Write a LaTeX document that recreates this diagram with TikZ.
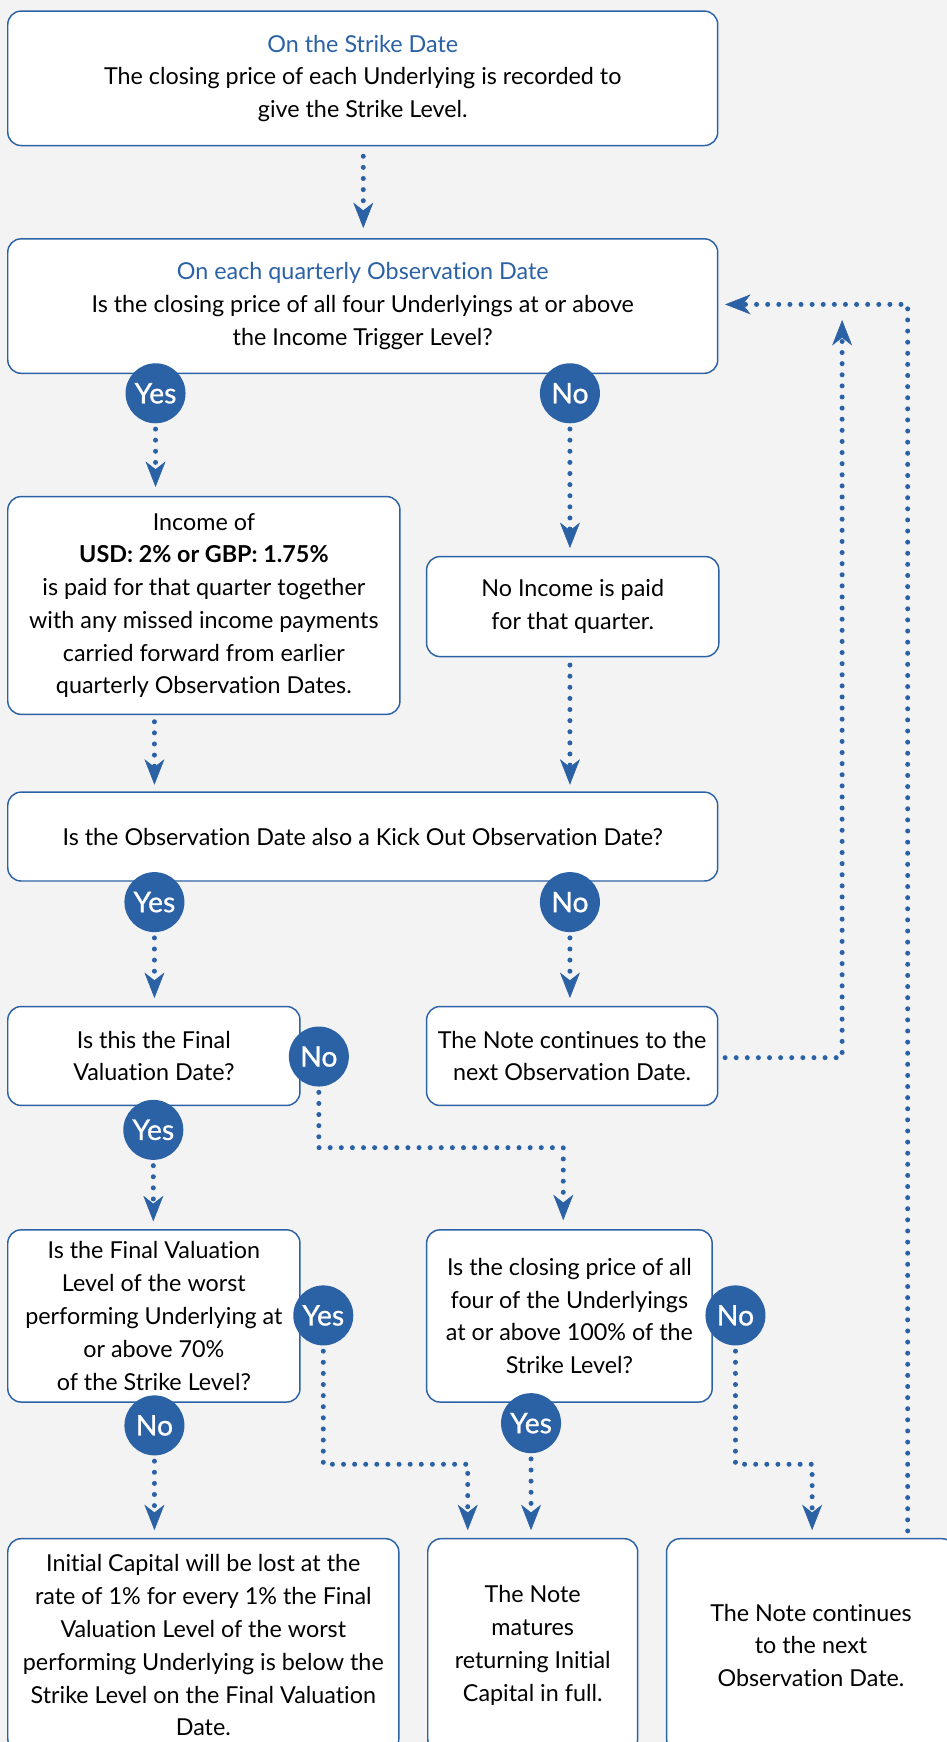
\documentclass[tikz,border=0pt]{standalone}
\usepackage{fontspec}
\setmainfont[Ligatures=NoCommon]{Lato}
\newfontfamily\circfont[FakeBold=0.8,Ligatures=NoCommon]{Lato}
\usetikzlibrary{arrows.meta}
\definecolor{bl}{HTML}{2B61A5}
\definecolor{bg}{HTML}{F3F3F3}
\begin{document}
\begin{tikzpicture}[x=1pt,y=-1pt,
  box/.style={draw=bl, line width=1.3pt, fill=white, rounded corners=12pt, align=center, inner sep=0pt, font=\fontsize{21}{29.5}\selectfont},
  yn/.style={circle, fill=bl, minimum size=54pt, inner sep=0pt, text=white, font=\circfont\fontsize{25.5}{25.5}\selectfont},
  dotarrow/.style={draw=bl, line width=4.5pt, line cap=round, dash pattern=on 0pt off 10pt,
     -{Stealth[length=23pt,width=18pt,inset=7pt,line width=0.5pt]}},
]
\fill[bg] (0,0) rectangle (852,1568);
\useasboundingbox (0,0) rectangle (852,1568);

% boxes
\node[box, minimum width=639pt, minimum height=121pt] (b1) at (326.5,70.5)
  {\textcolor{bl}{On the Strike Date}\\The closing price of each Underlying is recorded to\\give the Strike Level.};
\node[box, minimum width=639pt, minimum height=121pt] (b2) at (326.5,275.5)
  {\textcolor{bl}{On each quarterly Observation Date}\\Is the closing price of all four Underlyings at or above\\the Income Trigger Level?};
\node[box, minimum width=353pt, minimum height=196pt] (b3) at (183.5,545)
  {Income of\\\textbf{USD: 2\% or GBP: 1.75\%}\\is paid for that quarter together\\with any missed income payments\\carried forward from earlier\\quarterly Observation Dates.};
\node[box, minimum width=263pt, minimum height=90pt] (b4) at (515.5,546)
  {No Income is paid\\for that quarter.};
\node[box, minimum width=639pt, minimum height=80pt] (b5) at (326.5,753)
  {Is the Observation Date also a Kick Out Observation Date?};
\node[box, minimum width=263pt, minimum height=89pt] (b6) at (138.5,950.5)
  {Is this the Final\\Valuation Date?};
\node[box, minimum width=262pt, minimum height=89pt] (b7) at (515,950.5)
  {The Note continues to the\\next Observation Date.};
\node[box, minimum width=263pt, minimum height=155pt] (b8) at (138.5,1184.5)
  {Is the Final Valuation\\Level of the worst\\performing Underlying at\\or above 70\%\\of the Strike Level?};
\node[box, minimum width=257pt, minimum height=155pt] (b9) at (512.5,1184.5)
  {Is the closing price of all\\four of the Underlyings\\at or above 100\% of the\\Strike Level?};
\node[box, minimum width=352pt, minimum height=192pt] (b10) at (183,1481)
  {Initial Capital will be lost at the\\rate of 1\% for every 1\% the Final\\Valuation Level of the worst\\performing Underlying is below the\\Strike Level on the Final Valuation\\Date.};
\node[box, minimum width=189pt, minimum height=192pt] (b11) at (479.5,1481)
  {The Note\\matures\\returning Initial\\Capital in full.};
\node[box, minimum width=260pt, minimum height=192pt] (b12) at (730,1481)
  {The Note continues\\to the next\\Observation Date.};

% yes/no circles
\node[yn] (y1) at (140,354) {Yes};
\node[yn] (n1) at (513,354) {No};
\node[yn] (y2) at (139,812) {Yes};
\node[yn] (n2) at (513,812) {No};
\node[yn] (n3) at (287,951) {No};
\node[yn] (y3) at (138,1017) {Yes};
\node[yn] (y4) at (291,1184) {Yes};
\node[yn] (n4) at (662,1184) {No};
\node[yn] (n5) at (139,1283) {No};
\node[yn] (y5) at (478,1281) {Yes};

% helper coordinates
\coordinate (c9a) at (287,1033);
\coordinate (c9b) at (507,1033);
\coordinate (c11a) at (291,1318);
\coordinate (c11b) at (421,1318);
\coordinate (c13a) at (662,1318);
\coordinate (c13b) at (731,1318);
\coordinate (c14a) at (758,952);
\coordinate (c14b) at (758,288);
\coordinate (c15a) at (817,1385);
\coordinate (c15b) at (817,274);

% connectors
\draw[dotarrow, shorten <=9pt, shorten >=9pt] (b1.south -| 327,0) -- (b2.north -| 327,0);
\draw[dotarrow, shorten <=5pt, shorten >=8pt] (y1.south) -- (y1.south |- b3.north);
\draw[dotarrow, shorten <=5pt, shorten >=7pt] (n1.south) -- (n1.south |- b4.north);
\draw[dotarrow, shorten <=6pt, shorten >=6pt] (b3.south -| 139,0) -- (b5.north -| 139,0);
\draw[dotarrow, shorten <=7pt, shorten >=6pt] (b4.south -| 513,0) -- (b5.north -| 513,0);
\draw[dotarrow, shorten <=5pt, shorten >=7pt] (y2.south) -- (y2.south |- b6.north);
\draw[dotarrow, shorten <=5pt, shorten >=7pt] (n2.south) -- (n2.south |- b7.north);
\draw[dotarrow, shorten <=5pt, shorten >=7pt] (y3.south) -- (y3.south |- b8.north);
\draw[dotarrow, shorten <=5pt, shorten >=8pt] (n3.south) -- (c9a) -- (c9b) -- (c9b |- b9.north);
\draw[dotarrow, shorten <=5pt, shorten >=7pt] (n5.south) -- (n5.south |- b10.north);
\draw[dotarrow, shorten <=5pt, shorten >=7pt] (y4.south) -- (c11a) -- (c11b) -- (c11b |- b11.north);
\draw[dotarrow, shorten <=5pt, shorten >=7pt] (y5.south) -- (y5.south |- b11.north);
\draw[dotarrow, shorten <=5pt, shorten >=7pt] (n4.south) -- (c13a) -- (c13b) -- (c13b |- b12.north);
\draw[dotarrow, shorten <=6pt] (b7.east |- c14a) -- (c14a) -- (c14b);
\draw[dotarrow, shorten <=7pt, shorten >=6pt] (c15a) -- (c15b) -- (c15b -| b2.east);
\end{tikzpicture}
\end{document}
